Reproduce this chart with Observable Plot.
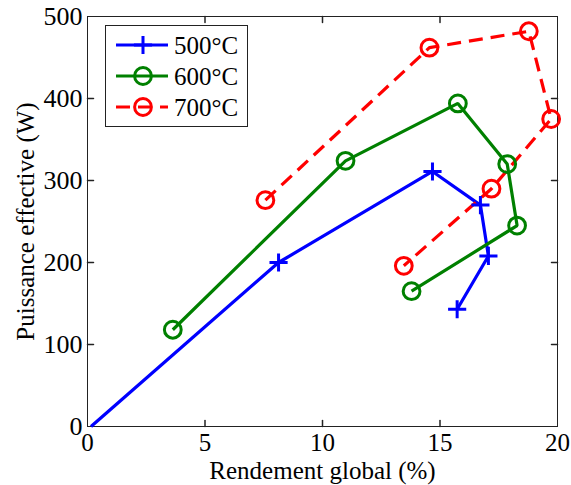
<!DOCTYPE html>
<html><head><meta charset="utf-8">
<script src="https://cdn.jsdelivr.net/npm/d3@7"></script>
<script src="https://cdn.jsdelivr.net/npm/@observablehq/plot@0.6"></script>
<style>
body{margin:0;background:#fff}
#wrap{position:relative;width:571px;height:485px}
#legend{position:absolute;left:105px;top:25px}
</style>
</head><body><div id="wrap"></div>
<script>
// ---- data ----
const seriesNames = ["500°C", "600°C", "700°C"];
const seriesColors = ["#0000ff", "#008000", "#ff0000"];
const seriesSymbols = ["plus", "circle", "circle"];
const seriesDashes = [null, null, "14,8"];

const x500 = [0.15, 8.13, 14.68, 16.72, 17.06, 15.73];
const y500 = [0, 200, 311, 270, 208, 143];
const marker500 = [false, true, true, true, true, true];

const x600 = [3.63, 10.98, 15.76, 17.86, 18.28, 13.79];
const y600 = [118, 324, 394, 320, 245, 165];
const marker600 = [true, true, true, true, true, true];

const x700 = [7.57, 14.55, 18.78, 19.73, 17.19, 13.46];
const y700 = [276, 462, 482, 375, 290, 196];
const marker700 = [true, true, true, true, true, true];

const xTicks = [0, 5, 10, 15, 20];
const yTicks = [0, 100, 200, 300, 400, 500];
const xLabel = "Rendement global (%)";
const yLabel = "Puissance effective (W)";

const font = "'Liberation Serif', 'Times New Roman', serif";

// ---- build table ----
const xs = [x500, x600, x700], ys = [y500, y600, y700], ms = [marker500, marker600, marker700];
const rows = [];
seriesNames.forEach((s, k) => xs[k].forEach((x, i) => rows.push({series: s, k, x, y: ys[k][i], m: ms[k][i]})));

const tickShape = {draw(context, l) { context.moveTo(0, 0); context.lineTo(0, -l); }};
const tickLen = 6;
const plusR = 5.9, circleR = 8.4;

const marks = [
  Plot.frame({stroke: "#222", strokeWidth: 1}),
  Plot.vector(xTicks.slice(1, -1), {x: d => d, frameAnchor: "bottom", rotate: 0, length: tickLen, anchor: "start", shape: tickShape, stroke: "#222"}),
  Plot.vector(xTicks.slice(1, -1), {x: d => d, frameAnchor: "top", rotate: 180, length: tickLen, anchor: "start", shape: tickShape, stroke: "#222"}),
  Plot.vector(yTicks.slice(1, -1), {y: d => d, frameAnchor: "left", rotate: 90, length: tickLen, anchor: "start", shape: tickShape, stroke: "#222"}),
  Plot.vector(yTicks.slice(1, -1), {y: d => d, frameAnchor: "right", rotate: -90, length: tickLen, anchor: "start", shape: tickShape, stroke: "#222"}),
  Plot.axisX({ticks: xTicks, tickSize: 0, tickPadding: 7, fontSize: 25, label: null, tickFormat: d3.format("d")}),
  Plot.axisY({ticks: yTicks, tickSize: 0, tickPadding: 5, fontSize: 26, label: null, tickFormat: d3.format("d")}),
  Plot.text([xLabel], {frameAnchor: "bottom", text: d => d, dy: 44, fontSize: 25, textAnchor: "middle", lineAnchor: "middle", fill: "#000"}),
  Plot.text([yLabel], {frameAnchor: "left", text: d => d, dx: -62, rotate: -90, fontSize: 25, textAnchor: "middle", lineAnchor: "middle", fill: "#000"})
];
seriesNames.forEach((s, k) => {
  const data = rows.filter(r => r.k === k);
  marks.push(Plot.line(data, {x: "x", y: "y", stroke: seriesColors[k], strokeWidth: 3.2, strokeDasharray: seriesDashes[k], strokeLinejoin: "miter", strokeLinecap: "butt"}));
});
seriesNames.forEach((s, k) => {
  const data = rows.filter(r => r.k === k && r.m);
  const isPlus = seriesSymbols[k] === "plus";
  marks.push(Plot.dot(data, {x: "x", y: "y", symbol: seriesSymbols[k], r: isPlus ? plusR : circleR, stroke: seriesColors[k], strokeWidth: 3, fill: "none"}));
});

const chart = Plot.plot({
  width: 571, height: 485,
  marginLeft: 87, marginRight: 14, marginTop: 16, marginBottom: 59,
  x: {domain: [0, 20]},
  y: {domain: [0, 500]},
  style: {fontFamily: font, color: "#000", background: "#fff", overflow: "visible"},
  marks
});
const wrap = document.getElementById("wrap");
wrap.appendChild(chart);

// ---- legend ----
const lw = 142, lh = 101;
const svg = d3.select(wrap).append("svg").attr("id", "legend").attr("width", lw + 2).attr("height", lh + 2);
svg.append("rect").attr("x", 0.5).attr("y", 0.5).attr("width", lw).attr("height", lh).attr("fill", "#fff").attr("stroke", "#222");
seriesNames.forEach((s, k) => {
  const cy = 20 + k * 31;
  const g = svg.append("g");
  g.append("line").attr("x1", 11).attr("x2", 63).attr("y1", cy).attr("y2", cy)
    .attr("stroke", seriesColors[k]).attr("stroke-width", 3.2).attr("stroke-dasharray", seriesDashes[k]);
  const sym = seriesSymbols[k] === "plus" ? d3.symbolPlus : d3.symbolCircle;
  const r = seriesSymbols[k] === "plus" ? plusR : circleR;
  g.append("path").attr("d", d3.symbol(sym, r * r * Math.PI)()).attr("transform", `translate(38,${cy})`)
    .attr("fill", "none").attr("stroke", seriesColors[k]).attr("stroke-width", 3);
  g.append("text").attr("x", 69).attr("y", cy).attr("dy", "0.35em").attr("font-family", font).attr("font-size", 25).text(s);
});
</script>
</body></html>
